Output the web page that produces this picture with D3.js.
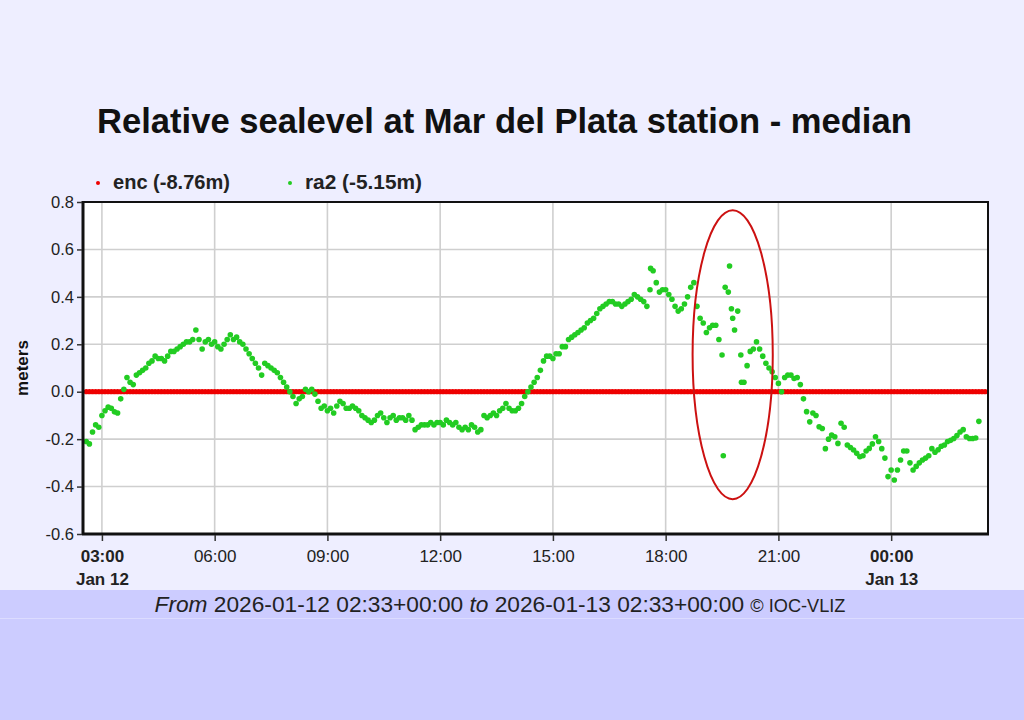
<!DOCTYPE html>
<html lang="en">
<head>
<meta charset="utf-8">
<title>Relative sealevel at Mar del Plata station</title>
<script src="https://cdn.jsdelivr.net/npm/d3@7/dist/d3.min.js"></script>
<style>
  body { margin: 0; background: #eeeeff; }
  text { font-family: "Liberation Sans", Arial, sans-serif; }
</style>
</head>
<body>
<div id="chart"></div>
<script>

// ---- data -------------------------------------------------------------
var rangeStart = "2026-01-12T02:33:00Z";
var rangeEnd = "2026-01-13T02:33:00Z";

// both series sampled every 5 minutes, first sample 02:35 UTC
var sampleStart = "2026-01-12T02:35:00Z";
var sampleStepMinutes = 5;

// enc: every reading sits on the median (0.00 m)
var encValues = [
  0,0,0,0,0,0,0,0,0,0,0,0, 0,0,0,0,0,0,0,0,0,0,0,0,
  0,0,0,0,0,0,0,0,0,0,0,0, 0,0,0,0,0,0,0,0,0,0,0,0,
  0,0,0,0,0,0,0,0,0,0,0,0, 0,0,0,0,0,0,0,0,0,0,0,0,
  0,0,0,0,0,0,0,0,0,0,0,0, 0,0,0,0,0,0,0,0,0,0,0,0,
  0,0,0,0,0,0,0,0,0,0,0,0, 0,0,0,0,0,0,0,0,0,0,0,0,
  0,0,0,0,0,0,0,0,0,0,0,0, 0,0,0,0,0,0,0,0,0,0,0,0,
  0,0,0,0,0,0,0,0,0,0,0,0, 0,0,0,0,0,0,0,0,0,0,0,0,
  0,0,0,0,0,0,0,0,0,0,0,0, 0,0,0,0,0,0,0,0,0,0,0,0,
  0,0,0,0,0,0,0,0,0,0,0,0, 0,0,0,0,0,0,0,0,0,0,0,0,
  0,0,0,0,0,0,0,0,0,0,0,0, 0,0,0,0,0,0,0,0,0,0,0,0,
  0,0,0,0,0,0,0,0,0,0,0,0, 0,0,0,0,0,0,0,0,0,0,0,0,
  0,0,0,0,0,0,0,0,0,0,0,0, 0,0,0,0,0,0,0,0,0,0,0,0
];

// ra2: one row per hour (02:35 .. 03:30, 03:35 .. 04:30, ...)
var ra2Values = [
  -0.21,-0.22,-0.17,-0.14,-0.15,-0.10,-0.08,-0.065,-0.07,-0.085,-0.09,-0.03,
  0.01,0.06,0.04,0.03,0.07,0.08,0.09,0.10,0.12,0.13,0.15,0.14,
  0.14,0.13,0.15,0.17,0.17,0.18,0.19,0.20,0.21,0.21,0.22,0.26,
  0.22,0.18,0.21,0.22,0.20,0.21,0.19,0.18,0.20,0.22,0.24,0.22,
  0.23,0.21,0.20,0.18,0.16,0.14,0.12,0.10,0.07,0.12,0.11,0.10,
  0.09,0.08,0.06,0.04,0.02,0.00,-0.02,-0.05,-0.03,-0.02,0.01,0.00,
  0.01,-0.01,-0.04,-0.07,-0.06,-0.08,-0.07,-0.09,-0.06,-0.04,-0.05,-0.07,
  -0.07,-0.06,-0.07,-0.08,-0.10,-0.11,-0.12,-0.13,-0.12,-0.10,-0.09,-0.11,
  -0.13,-0.11,-0.10,-0.12,-0.11,-0.11,-0.12,-0.10,-0.12,-0.16,-0.15,-0.14,
  -0.14,-0.14,-0.13,-0.14,-0.13,-0.13,-0.14,-0.12,-0.13,-0.14,-0.13,-0.15,
  -0.16,-0.15,-0.16,-0.14,-0.15,-0.17,-0.16,-0.10,-0.11,-0.10,-0.09,-0.10,
  -0.08,-0.07,-0.05,-0.07,-0.08,-0.08,-0.07,-0.05,-0.02,0.00,0.02,0.04,
  0.06,0.09,0.13,0.15,0.15,0.14,0.16,0.16,0.19,0.19,0.22,0.23,
  0.24,0.25,0.26,0.27,0.29,0.30,0.31,0.33,0.35,0.36,0.37,0.38,
  0.38,0.37,0.37,0.36,0.37,0.38,0.39,0.41,0.40,0.39,0.38,0.36,
  0.43,0.51,0.46,0.42,0.43,0.43,0.41,0.39,0.36,0.34,0.35,0.37,
  0.40,0.44,0.46,0.36,0.31,0.29,0.25,0.27,0.28,0.28,0.22,0.155,
  0.44,0.42,0.35,0.26,0.34,0.155,0.04,0.11,0.17,0.18,0.21,0.18,
  0.15,0.12,0.10,0.084,0.06,0.035,0.00,0.06,0.07,0.07,0.056,0.06,
  0.03,-0.03,-0.084,-0.127,-0.09,-0.10,-0.148,-0.155,-0.24,-0.20,-0.183,-0.19,
  -0.218,-0.133,-0.15,-0.225,-0.235,-0.246,-0.26,-0.274,-0.27,-0.25,-0.239,-0.22,
  -0.19,-0.21,-0.24,-0.28,-0.358,-0.33,-0.372,-0.33,-0.288,-0.25,-0.25,-0.30,
  -0.33,-0.315,-0.30,-0.288,-0.28,-0.27,-0.24,-0.255,-0.245,-0.23,-0.225,-0.21,
  -0.205,-0.197,-0.185,-0.17,-0.16,-0.19,-0.197,-0.197,-0.195,-0.125
];

// off-grid ra2 readings (spikes around 19:30 - 20:00)
var ra2ExtraTimes = ["2026-01-12T17:36:00Z", "2026-01-12T19:32:00Z", "2026-01-12T19:42:00Z",
                     "2026-01-12T19:47:00Z", "2026-01-12T20:01:00Z"];
var ra2ExtraValues = [0.52, -0.27, 0.53, 0.31, 0.04];

var seriesNames = ["enc (-8.76m)", "ra2 (-5.15m)"];
var seriesColors = ["#ee0000", "#22cc22"];

var yTicks = [0.8, 0.6, 0.4, 0.2, 0.0, -0.2, -0.4, -0.6];
var xTickTimes = ["2026-01-12T03:00:00Z", "2026-01-12T06:00:00Z", "2026-01-12T09:00:00Z",
                  "2026-01-12T12:00:00Z", "2026-01-12T15:00:00Z", "2026-01-12T18:00:00Z",
                  "2026-01-12T21:00:00Z", "2026-01-13T00:00:00Z"];
var xTickLabels = ["03:00", "06:00", "09:00", "12:00", "15:00", "18:00", "21:00", "00:00"];
var xDateLabels = ["Jan 12", "", "", "", "", "", "", "Jan 13"];

// highlighted window (red ellipse)
var markCentre = ["2026-01-12T19:47:00Z", 0.156];
var markHalfMinutes = 64;
var markHalfValue = 0.609;

var titleText = "Relative sealevel at Mar del Plata station - median";

// ---- layout -----------------------------------------------------------
var width = 1024, height = 720;
var plot = {left: 85, top: 202, width: 902, height: 332};
var fontStack = "'Liberation Sans', Arial, sans-serif";

var svg = d3.select("#chart")
    .append("svg")
    .attr("width", width)
    .attr("height", height);

// page background bands
svg.append("rect").attr("width", width).attr("height", height).attr("fill", "#eeeeff");
svg.append("rect").attr("y", 590).attr("width", width).attr("height", 130).attr("fill", "#ccccff");
svg.append("line").attr("x1", 0).attr("x2", width).attr("y1", 618.5).attr("y2", 618.5)
    .attr("stroke", "#dcdcff").attr("stroke-width", 1);

var parse = d3.isoParse;

var xScale = d3.scaleUtc()
    .domain([parse(rangeStart), parse(rangeEnd)])
    .range([plot.left, plot.left + plot.width]);

var yScale = d3.scaleLinear()
    .domain([-0.6, 0.8])
    .range([plot.top + plot.height, plot.top]);

// shrink / grow a text so it spans the wanted width
function fitText(sel, wanted) {
    var node = sel.node();
    var size = parseFloat(sel.attr("font-size"));
    var w = node.getComputedTextLength();
    sel.attr("font-size", (size * wanted / w).toFixed(2));
}

// ---- title ------------------------------------------------------------
svg.append("text")
    .attr("x", 97)
    .attr("y", 133)
    .attr("font-size", 32)
    .attr("font-weight", "bold")
    .attr("fill", "#111")
    .text(titleText)
    .call(fitText, 815);

// ---- legend -----------------------------------------------------------
var legendX = [98, 290];
seriesNames.forEach(function(name, i) {
    svg.append("circle")
        .attr("cx", legendX[i])
        .attr("cy", 183)
        .attr("r", 2)
        .attr("fill", seriesColors[i]);
    svg.append("text")
        .attr("x", legendX[i] + 15)
        .attr("y", 189)
        .attr("font-size", 17)
        .attr("font-weight", "bold")
        .attr("fill", "#222")
        .text(name)
        .call(fitText, 117);
});

// ---- plot area --------------------------------------------------------
svg.append("rect")
    .attr("x", plot.left - 2)
    .attr("y", plot.top)
    .attr("width", plot.width + 3)
    .attr("height", plot.height)
    .attr("fill", "#ffffff");

// gridlines
svg.append("g")
    .selectAll("line")
    .data(yTicks)
    .enter().append("line")
    .attr("x1", plot.left - 2)
    .attr("x2", plot.left + plot.width + 1)
    .attr("y1", function(d) { return yScale(d); })
    .attr("y2", function(d) { return yScale(d); })
    .attr("stroke", "#cfcfcf")
    .attr("stroke-width", 1.6);

svg.append("g")
    .selectAll("line")
    .data(xTickTimes)
    .enter().append("line")
    .attr("x1", function(d) { return xScale(parse(d)); })
    .attr("x2", function(d) { return xScale(parse(d)); })
    .attr("y1", plot.top)
    .attr("y2", plot.top + plot.height)
    .attr("stroke", "#cfcfcf")
    .attr("stroke-width", 1.6);

// ---- series -----------------------------------------------------------
function sampleTime(i) {
    return new Date(parse(sampleStart).getTime() + i * sampleStepMinutes * 60000);
}

var encData = encValues.map(function(v, i) { return {t: sampleTime(i), v: v}; });
var ra2Data = ra2Values.map(function(v, i) { return {t: sampleTime(i), v: v}; })
    .concat(ra2ExtraValues.map(function(v, i) { return {t: parse(ra2ExtraTimes[i]), v: v}; }));

svg.append("g")
    .selectAll("circle")
    .data(encData)
    .enter().append("circle")
    .attr("cx", function(d) { return xScale(d.t); })
    .attr("cy", function(d) { return yScale(d.v); })
    .attr("r", 2.6)
    .attr("fill", seriesColors[0]);

svg.append("g")
    .selectAll("circle")
    .data(ra2Data)
    .enter().append("circle")
    .attr("cx", function(d) { return xScale(d.t); })
    .attr("cy", function(d) { return yScale(d.v); })
    .attr("r", 2.8)
    .attr("fill", seriesColors[1]);

// ---- frame & axes -----------------------------------------------------
svg.append("rect")
    .attr("x", plot.left - 2)
    .attr("y", plot.top)
    .attr("width", plot.width + 3)
    .attr("height", plot.height)
    .attr("fill", "none")
    .attr("stroke", "#111")
    .attr("stroke-width", 2);

// heavier left and bottom axis lines
svg.append("line")
    .attr("x1", plot.left - 2).attr("x2", plot.left - 2)
    .attr("y1", plot.top - 1).attr("y2", plot.top + plot.height + 1)
    .attr("stroke", "#111").attr("stroke-width", 3);
svg.append("line")
    .attr("x1", plot.left - 3).attr("x2", plot.left + plot.width + 2)
    .attr("y1", plot.top + plot.height).attr("y2", plot.top + plot.height)
    .attr("stroke", "#111").attr("stroke-width", 3);

// y axis
var yAxis = d3.axisLeft(yScale)
    .tickValues(yTicks)
    .tickSize(5)
    .tickPadding(3)
    .tickFormat(function(d) { return d.toFixed(1); });

var yG = svg.append("g")
    .attr("transform", "translate(" + (plot.left - 3) + ",0)")
    .call(yAxis);
yG.select(".domain").remove();
yG.selectAll("line").attr("stroke", "#333").attr("stroke-width", 1.5);
yG.selectAll("text")
    .attr("font-size", 16.5)
    .attr("fill", "#222")
    .attr("font-family", fontStack);

// x axis
var xAxis = d3.axisBottom(xScale)
    .tickValues(xTickTimes.map(parse))
    .tickSize(6)
    .tickPadding(9)
    .tickFormat(function(d, i) { return xTickLabels[i]; });

var xG = svg.append("g")
    .attr("transform", "translate(0," + (plot.top + plot.height + 1) + ")")
    .call(xAxis);
xG.select(".domain").remove();
xG.selectAll("line").attr("stroke", "#333").attr("stroke-width", 1.5);
xG.selectAll("text")
    .attr("font-size", 17)
    .attr("fill", "#222")
    .attr("font-family", fontStack)
    .attr("font-weight", function(d, i) { return xDateLabels[i] ? "bold" : "normal"; });

// second line with the date under day changes
xG.selectAll(".tick")
    .filter(function(d, i) { return xDateLabels[i] !== ""; })
    .append("text")
    .attr("y", 50)
    .attr("fill", "#222")
    .attr("font-size", 17)
    .attr("font-weight", "bold")
    .attr("text-anchor", "middle")
    .attr("font-family", fontStack)
    .text(function(d) {
        return xDateLabels[xTickTimes.map(parse).findIndex(function(t) { return +t === +d; })];
    });

// y axis title
svg.append("text")
    .attr("transform", "translate(28,368) rotate(-90)")
    .attr("text-anchor", "middle")
    .attr("font-size", 17)
    .attr("font-weight", "bold")
    .attr("fill", "#111")
    .text("meters");

// ---- highlight ellipse -------------------------------------------------
var cT = parse(markCentre[0]);
var cx = xScale(cT);
var rx = xScale(new Date(cT.getTime() + markHalfMinutes * 60000)) - cx;
var cy = yScale(markCentre[1]);
var ry = yScale(markCentre[1] - markHalfValue) - cy;

svg.append("ellipse")
    .attr("cx", cx)
    .attr("cy", cy)
    .attr("rx", rx)
    .attr("ry", ry)
    .attr("fill", "none")
    .attr("stroke", "#cc1111")
    .attr("stroke-width", 2);

// ---- footer -----------------------------------------------------------
var footer = svg.append("text")
    .attr("x", 500)
    .attr("y", 612)
    .attr("text-anchor", "middle")
    .attr("font-size", 19)
    .attr("fill", "#222");
footer.append("tspan").attr("font-style", "italic").text("From");
footer.append("tspan").text(" 2026-01-12 02:33+00:00 ");
footer.append("tspan").attr("font-style", "italic").text("to");
footer.append("tspan").text(" 2026-01-13 02:33+00:00 ");
footer.append("tspan").attr("font-size", "0.8em").text("© IOC-VLIZ");
footer.call(fitText, 691);

</script>
</body>
</html>
